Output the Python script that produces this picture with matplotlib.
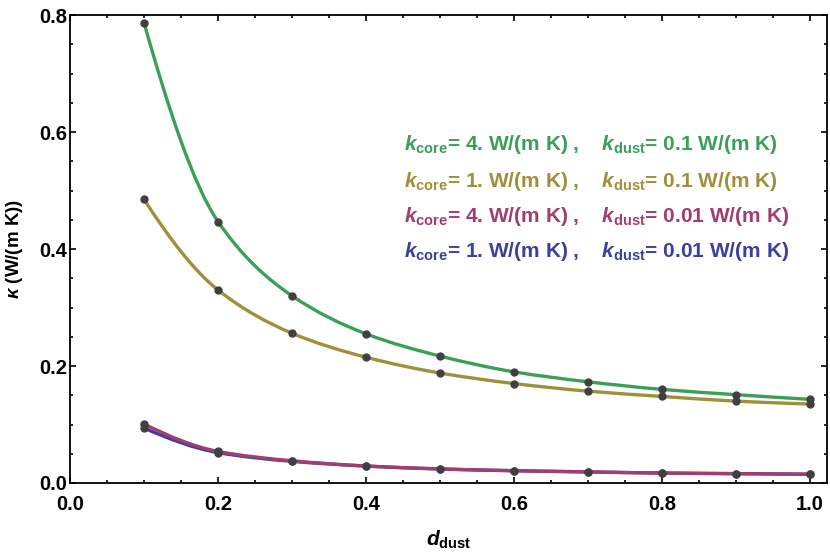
import numpy as np
import matplotlib
matplotlib.use("Agg")
import matplotlib.pyplot as plt
from matplotlib.path import Path
from matplotlib.patches import PathPatch
from matplotlib.ticker import MultipleLocator

plt.rcParams['font.family'] = ['Liberation Sans', 'DejaVu Sans']
plt.rcParams['mathtext.fontset'] = 'custom'
plt.rcParams['mathtext.rm'] = 'Liberation Sans:bold'
plt.rcParams['mathtext.bf'] = 'Liberation Sans:bold'
plt.rcParams['mathtext.it'] = 'Liberation Sans:italic:bold'

# d_dust values and kappa (W/(m K))
d_dust = [0.1, 0.2, 0.3, 0.4, 0.5, 0.6, 0.7, 0.8, 0.9, 1.0]
kappa_c4_d01 = [0.787, 0.447, 0.320, 0.255, 0.217, 0.190, 0.173, 0.160, 0.151, 0.143]
kappa_c1_d01 = [0.485, 0.330, 0.256, 0.215, 0.188, 0.170, 0.157, 0.148, 0.140, 0.135]
kappa_c4_d001 = [0.101, 0.054, 0.038, 0.029, 0.024, 0.021, 0.019, 0.017, 0.016, 0.015]
kappa_c1_d001 = [0.094, 0.052, 0.037, 0.029, 0.024, 0.021, 0.019, 0.017, 0.016, 0.015]

labels = [
    r"$k_{\rm core}$= 4. W/(m K) ,    $k_{\rm dust}$= 0.1 W/(m K)",
    r"$k_{\rm core}$= 1. W/(m K) ,    $k_{\rm dust}$= 0.1 W/(m K)",
    r"$k_{\rm core}$= 4. W/(m K) ,    $k_{\rm dust}$= 0.01 W/(m K)",
    r"$k_{\rm core}$= 1. W/(m K) ,    $k_{\rm dust}$= 0.01 W/(m K)",
]
series = [kappa_c4_d01, kappa_c1_d01, kappa_c4_d001, kappa_c1_d001]
colors = ['#3a9f58', '#a08f3b', '#a23d70', '#3c3f9e']


def smooth_path(x, y):
    # monotone cubic (PCHIP-style tangents) through the points, as Bezier segments
    x = np.asarray(x, float)
    y = np.asarray(y, float)
    h = np.diff(x)
    s = np.diff(y) / h
    n = len(x)
    d = np.zeros(n)
    for i in range(1, n - 1):
        if s[i - 1] * s[i] > 0:
            d[i] = 2 * s[i - 1] * s[i] / (s[i - 1] + s[i])
    d[0] = ((2 * h[0] + h[1]) * s[0] - h[0] * s[1]) / (h[0] + h[1])
    d[-1] = ((2 * h[-1] + h[-2]) * s[-1] - h[-1] * s[-2]) / (h[-1] + h[-2])
    verts = [(x[0], y[0])]
    codes = [Path.MOVETO]
    for i in range(n - 1):
        c1 = (x[i] + h[i] / 3, y[i] + d[i] * h[i] / 3)
        c2 = (x[i + 1] - h[i] / 3, y[i + 1] - d[i + 1] * h[i] / 3)
        verts += [c1, c2, (x[i + 1], y[i + 1])]
        codes += [Path.CURVE4] * 3
    return Path(verts, codes)


fig = plt.figure(figsize=(8.3, 5.52), dpi=100)
ax = fig.add_axes([0.0843, 0.125, 0.9121, 0.8478])

# draw blue first so magenta lies on top
order = [3, 2, 1, 0]
for i in order:
    ax.add_patch(PathPatch(smooth_path(d_dust, series[i]), facecolor='none',
                           edgecolor=colors[i], lw=2.4, zorder=2))
for i in order:
    ax.plot(d_dust, series[i], 'o', color='#404040', ms=5, zorder=3)

ax.set_xlim(0, 1.023)
ax.set_ylim(0, 0.8)
ax.xaxis.set_major_locator(MultipleLocator(0.2))
ax.xaxis.set_minor_locator(MultipleLocator(0.05))
ax.yaxis.set_major_locator(MultipleLocator(0.2))
ax.yaxis.set_minor_locator(MultipleLocator(0.05))
ax.xaxis.set_major_formatter(plt.FuncFormatter(lambda v, p: f"{v:.1f}"))
ax.yaxis.set_major_formatter(plt.FuncFormatter(lambda v, p: f"{v:.1f}"))

ax.tick_params(which='both', direction='in', top=True, right=True, width=1.2)
ax.tick_params(which='major', length=4.5)
ax.tick_params(which='minor', length=2.5)
ax.tick_params(axis='x', pad=9)
ax.tick_params(axis='y', pad=2)
for lab in ax.get_xticklabels() + ax.get_yticklabels():
    lab.set_fontsize(14.5)
    lab.set_fontweight('bold')
for sp in ax.spines.values():
    sp.set_linewidth(1.3)

ax.set_xlabel(r"$d_{\rm dust}$", fontsize=15, labelpad=10)
ax.set_ylabel(r"$\kappa$ (W/(m K))", fontsize=13.5, fontweight='bold', labelpad=10)

y_text = [0.578, 0.516, 0.455, 0.395]
for lab, col, yt in zip(labels, colors, y_text):
    ax.text(0.451, yt, lab, color=col, fontsize=15, fontweight='bold',
            va='center', ha='left', transform=ax.transData)

fig.savefig('out.png', dpi=100)
